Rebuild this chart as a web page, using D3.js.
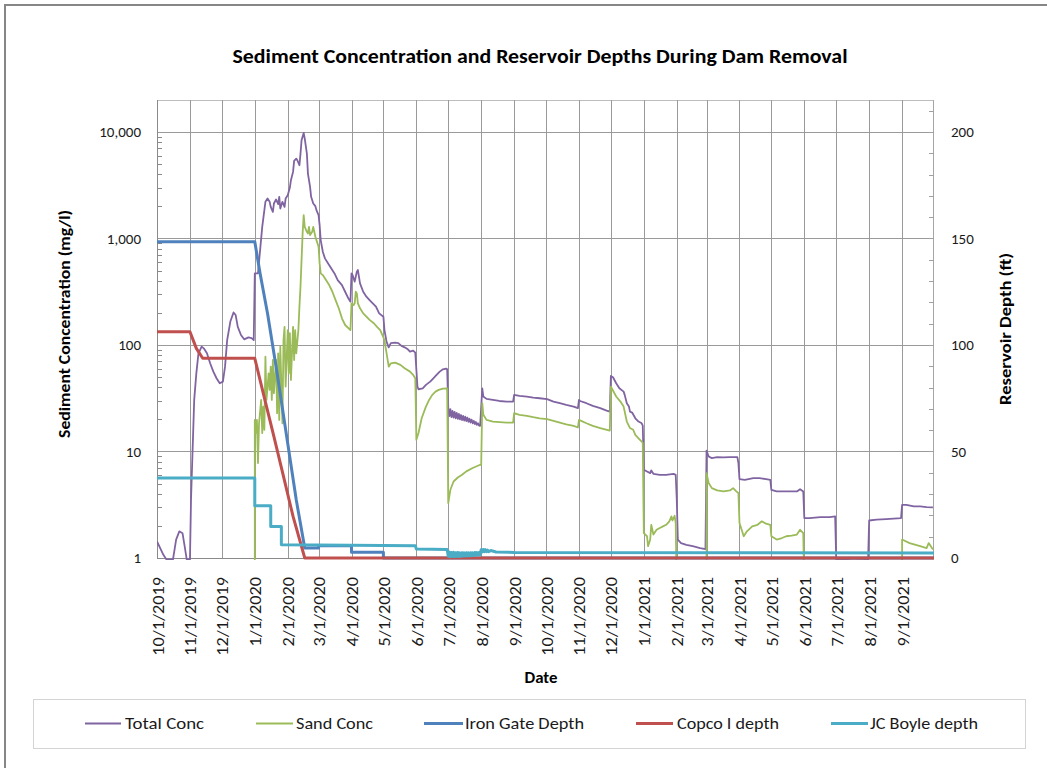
<!DOCTYPE html>
<html>
<head>
<meta charset="utf-8">
<script src="https://cdn.jsdelivr.net/npm/d3@7"></script>
<style>
  html, body { margin: 0; padding: 0; background: #fff; }
  svg { display: block; }
</style>
</head>
<body>
<svg id="chart" width="1047" height="768"></svg>
<script>
// ---- data (dates as YYYY-MM-DD; concentrations in mg/l, depths in ft) ----
const monthTicks = ["2019-10-01","2019-11-01","2019-12-01","2020-01-01","2020-02-01","2020-03-01",
  "2020-04-01","2020-05-01","2020-06-01","2020-07-01","2020-08-01","2020-09-01","2020-10-01",
  "2020-11-01","2020-12-01","2021-01-01","2021-02-01","2021-03-01","2021-04-01","2021-05-01",
  "2021-06-01","2021-07-01","2021-08-01","2021-09-01"];
const concTicks = [1, 10, 100, 1000, 10000];
const depthTicks = [0, 50, 100, 150, 200];

const totalConc = [
  ["2019-10-01",1.43],["2019-10-04",1.24],["2019-10-07",1.07],["2019-10-10",0.965],["2019-10-16",0.965],
  ["2019-10-19",1.49],["2019-10-22",1.78],["2019-10-25",1.71],["2019-10-27",1.29],["2019-10-29",0.965],
  ["2019-11-01",0.965],["2019-11-02",3.52],["2019-11-04",14.9],["2019-11-05",30.5],["2019-11-07",54.2],
  ["2019-11-09",83.5],["2019-11-12",96.5],["2019-11-14",93],["2019-11-17",83.5],["2019-11-20",67.3],
  ["2019-11-23",56.2],["2019-11-26",48.7],["2019-11-29",43.7],["2019-12-02",45.3],["2019-12-04",62.6],
  ["2019-12-06",111],["2019-12-09",166],["2019-12-12",202],["2019-12-14",191],["2019-12-16",148],
  ["2019-12-19",124],["2019-12-22",113],["2019-12-26",118],["2019-12-29",116],["2019-12-31",111],
  ["2020-01-01",470],["2020-01-04",470],["2020-01-06",778],["2020-01-08",1286],["2020-01-11",2207],
  ["2020-01-13",2371],["2020-01-15",2207],["2020-01-16",1982],["2020-01-18",1778],["2020-01-19",2130],
  ["2020-01-21",2322],["2020-01-23",2099],["2020-01-24",2459],["2020-01-25",1911],["2020-01-27",2207],
  ["2020-01-29",1982],["2020-01-30",2371],["2020-02-01",2548],["2020-02-03",3007],["2020-02-04",3522],
  ["2020-02-06",4217],["2020-02-07",5346],["2020-02-09",5623],["2020-02-10",5423],["2020-02-12",4870],
  ["2020-02-13",6266],["2020-02-14",8354],["2020-02-16",9793],["2020-02-17",8660],["2020-02-19",6266],
  ["2020-02-20",4066],["2020-02-22",3051],["2020-02-23",2459],["2020-02-25",2130],["2020-02-27",2010],
  ["2020-02-28",1845],["2020-03-01",1655],["2020-03-02",1334],["2020-03-03",965],["2020-03-05",750],
  ["2020-03-07",650],["2020-03-10",583],["2020-03-13",523],["2020-03-16",470],["2020-03-19",407],
  ["2020-03-23",365],["2020-03-26",316],["2020-03-29",274],["2020-03-31",255],["2020-04-01",470],
  ["2020-04-02",453],["2020-04-04",393],["2020-04-06",487],["2020-04-07",505],["2020-04-09",379],
  ["2020-04-12",316],["2020-04-15",284],["2020-04-18",264],["2020-04-21",246],["2020-04-24",229],
  ["2020-04-27",198],["2020-05-01",184],["2020-05-02",138],["2020-05-04",107],["2020-05-06",95],
  ["2020-05-08",104],["2020-05-12",105],["2020-05-15",104],["2020-05-18",98],["2020-05-21",95],
  ["2020-05-24",91],["2020-05-26",86.6],["2020-05-29",88.5],["2020-05-31",84.8],["2020-06-02",40.7],
  ["2020-06-03",38.4],["2020-06-07",39.2],["2020-06-10",42.2],["2020-06-14",45.3],["2020-06-17",48.7],
  ["2020-06-20",52.3],["2020-06-23",56.2],["2020-06-26",59.1],["2020-06-29",60],["2020-06-30",59.1],
  ["2020-07-01",26],["2020-07-02",21.5],["2020-07-03",25],["2020-07-04",21],["2020-07-05",24],
  ["2020-07-06",20.8],["2020-07-07",23.5],["2020-07-08",20.5],["2020-07-09",23],["2020-07-10",20.2],
  ["2020-07-11",22.5],["2020-07-12",20],["2020-07-13",22],["2020-07-14",19.7],["2020-07-15",21.6],
  ["2020-07-16",19.5],["2020-07-17",21.2],["2020-07-18",19.3],["2020-07-19",20.8],["2020-07-20",19],
  ["2020-07-21",20.3],["2020-07-22",18.7],["2020-07-23",19.9],["2020-07-24",18.4],["2020-07-25",19.4],
  ["2020-07-26",18.1],["2020-07-27",18.9],["2020-07-28",17.8],["2020-07-29",18.4],["2020-07-30",17.5],
  ["2020-07-31",17.4],["2020-08-02",39.2],["2020-08-03",32.8],["2020-08-06",31.2],["2020-08-12",30.5],
  ["2020-08-18",29.8],["2020-08-25",29.4],["2020-08-31",29.4],["2020-09-01",34],["2020-09-06",33.3],
  ["2020-09-13",32.8],["2020-09-19",32.1],["2020-09-25",31.6],["2020-10-02",31],["2020-10-08",29.4],
  ["2020-10-14",28.4],["2020-10-20",27.4],["2020-10-27",26.4],["2020-10-31",25.5],["2020-11-01",30.5],
  ["2020-11-02",29.8],["2020-11-08",28.4],["2020-11-14",26.8],["2020-11-21",25.5],["2020-11-27",24.2],
  ["2020-11-30",23.7],["2020-12-01",51.2],["2020-12-03",49.8],["2020-12-06",43.7],["2020-12-09",39.2],
  ["2020-12-13",36.5],["2020-12-14",34],["2020-12-16",28.4],["2020-12-18",26.4],["2020-12-19",23.7],
  ["2020-12-21",23.2],["2020-12-24",20.5],["2020-12-27",19.1],["2020-12-30",18.4],["2020-12-31",17.5],
  ["2021-01-01",6.73],["2021-01-04",6.49],["2021-01-07",6.26],["2021-01-08",6.64],["2021-01-10",6.17],
  ["2021-01-16",6.04],["2021-01-22",6.04],["2021-01-29",6.17],["2021-01-31",6.04],["2021-02-01",3.52],
  ["2021-02-02",1.49],["2021-02-05",1.38],["2021-02-10",1.33],["2021-02-16",1.29],["2021-02-23",1.24],
  ["2021-02-28",1.21],["2021-03-01",10.2],["2021-03-03",8.98],["2021-03-06",8.66],["2021-03-11",8.85],
  ["2021-03-17",8.8],["2021-03-23",8.85],["2021-03-30",8.85],["2021-03-31",7.78],["2021-04-01",5.5],
  ["2021-04-06",5.42],["2021-04-14",5.62],["2021-04-20",5.62],["2021-04-26",5.5],["2021-04-30",5.42],
  ["2021-05-01",4.37],["2021-05-06",4.22],["2021-05-15",4.22],["2021-05-25",4.22],["2021-05-28",4.43],
  ["2021-05-31",4.22],["2021-06-01",2.37],["2021-06-06",2.37],["2021-06-16",2.42],["2021-06-25",2.42],
  ["2021-06-30",2.46],["2021-07-01",0.965],["2021-07-08",0.965],["2021-07-17",0.951],["2021-07-27",0.958],
  ["2021-07-31",0.965],["2021-08-01",2.25],["2021-08-08",2.29],["2021-08-17",2.32],["2021-08-31",2.37],
  ["2021-09-01",3.16],["2021-09-05",3.16],["2021-09-12",3.05],["2021-09-18",3.05],["2021-09-24",3.01],
  ["2021-09-30",2.99]
];

const sandConc = [
  ["2020-01-01",0.5],["2020-01-01",19.8],["2020-01-02",14.9],["2020-01-03",19.8],["2020-01-04",7.8],
  ["2020-01-05",18.4],["2020-01-07",30.5],["2020-01-08",14.9],["2020-01-09",26.4],["2020-01-10",16],
  ["2020-01-11",77.8],["2020-01-12",30.5],["2020-01-14",54.2],["2020-01-15",37.9],["2020-01-16",62.6],
  ["2020-01-17",30.5],["2020-01-18",72.3],["2020-01-19",35.2],["2020-01-21",72.3],["2020-01-22",22.9],
  ["2020-01-23",83.5],["2020-01-24",19.8],["2020-01-25",96.5],["2020-01-27",18.4],["2020-01-28",111],
  ["2020-01-29",148],["2020-01-30",40.7],["2020-02-01",138],["2020-02-02",54.2],["2020-02-03",129],
  ["2020-02-04",47],["2020-02-06",148],["2020-02-07",72.3],["2020-02-08",138],["2020-02-09",83.5],
  ["2020-02-11",138],["2020-02-12",229],["2020-02-13",352],["2020-02-14",626],["2020-02-15",1114],
  ["2020-02-16",1655],["2020-02-17",1286],["2020-02-19",1155],["2020-02-20",1114],["2020-02-21",1286],
  ["2020-02-22",1075],["2020-02-24",1155],["2020-02-25",1286],["2020-02-27",1037],["2020-02-28",965],
  ["2020-03-01",835],["2020-03-02",583],["2020-03-03",470],["2020-03-05",453],["2020-03-08",407],
  ["2020-03-11",365],["2020-03-14",316],["2020-03-17",264],["2020-03-20",221],["2020-03-23",178],
  ["2020-03-26",154],["2020-03-31",138],["2020-04-01",246],["2020-04-03",237],["2020-04-04",246],
  ["2020-04-05",316],["2020-04-06",305],["2020-04-07",246],["2020-04-09",221],["2020-04-12",198],
  ["2020-04-15",185],["2020-04-18",172],["2020-04-22",160],["2020-04-25",148],["2020-04-28",138],
  ["2020-05-01",118],["2020-05-02",110],["2020-05-04",83.5],["2020-05-06",62.6],["2020-05-08",67.3],
  ["2020-05-12",68.3],["2020-05-17",65],["2020-05-21",60.4],["2020-05-26",56.2],["2020-05-29",52.3],
  ["2020-05-31",48.7],["2020-06-01",12.9],["2020-06-03",14.9],["2020-06-06",20.5],["2020-06-10",26.4],
  ["2020-06-13",30.5],["2020-06-16",34],["2020-06-19",36.5],["2020-06-22",37.9],["2020-06-26",39],
  ["2020-06-30",39.2],["2020-07-01",3.28],["2020-07-03",4.37],["2020-07-06",5.23],["2020-07-10",5.7],
  ["2020-07-14",6.04],["2020-07-18",6.5],["2020-07-24",7.0],["2020-07-31",7.5],["2020-08-01",7.5],
  ["2020-08-02",28.4],["2020-08-03",22.1],["2020-08-06",19.8],["2020-08-12",19.1],["2020-08-25",18.7],
  ["2020-08-31",18.7],["2020-09-01",22.9],["2020-09-06",22.1],["2020-09-13",21.6],["2020-09-19",21],
  ["2020-09-25",20.5],["2020-10-02",20.1],["2020-10-08",19.4],["2020-10-14",18.7],["2020-10-20",18],
  ["2020-10-27",17.4],["2020-10-31",16.8],["2020-11-01",19.8],["2020-11-08",18.4],["2020-11-14",17.4],
  ["2020-11-21",16.6],["2020-11-30",15.7],["2020-12-01",40.7],["2020-12-06",32.8],["2020-12-10",29.4],
  ["2020-12-13",26.4],["2020-12-16",19.1],["2020-12-19",16.6],["2020-12-22",16],["2020-12-24",14.3],
  ["2020-12-27",13.3],["2020-12-30",12.4],["2020-12-31",12],["2021-01-01",1.71],["2021-01-04",1.6],
  ["2021-01-05",1.29],["2021-01-07",1.49],["2021-01-08",2.05],["2021-01-10",1.66],["2021-01-13",1.84],
  ["2021-01-16",1.91],["2021-01-19",1.98],["2021-01-22",2.05],["2021-01-25",2.21],["2021-01-27",2.46],
  ["2021-01-28",2.25],["2021-01-30",2.49],["2021-01-31",2.13],["2021-02-01",0.5],["2021-03-01",0.5],
  ["2021-03-01",6.26],["2021-03-03",5.05],["2021-03-06",4.53],["2021-03-11",4.31],["2021-03-17",4.22],
  ["2021-03-23",4.31],["2021-03-26",4.53],["2021-03-29",4.22],["2021-03-31",4.07],["2021-04-01",2.13],
  ["2021-04-05",1.6],["2021-04-08",1.78],["2021-04-13",1.98],["2021-04-18",2.05],["2021-04-22",2.21],
  ["2021-04-26",2.1],["2021-04-30",2.05],["2021-05-01",1.6],["2021-05-06",1.49],["2021-05-11",1.54],
  ["2021-05-15",1.6],["2021-05-20",1.62],["2021-05-25",1.66],["2021-05-28",1.84],["2021-05-31",1.71],
  ["2021-06-01",0.5],["2021-09-01",0.5],["2021-09-01",1.49],["2021-09-08",1.38],["2021-09-18",1.29],
  ["2021-09-24",1.24],["2021-09-26",1.38],["2021-09-30",1.2]
];

const ironGateDepth = [
  ["2019-10-01",148.4],["2020-01-01",148.4],["2020-01-06",133.6],["2020-01-13",114.8],["2020-01-22",86.7],
  ["2020-01-31",57],["2020-02-09",27.3],["2020-02-17",4.7],["2020-03-01",4.7],["2020-03-01",5.8],
  ["2020-04-01",5.8],["2020-04-01",2.7],["2020-05-01",2.7],["2020-05-01",0],["2021-10-01",0]
];

const copcoDepth = [
  ["2019-10-01",106.25],["2019-11-01",106.25],["2019-11-07",98.4],["2019-11-13",93.75],["2020-01-01",93.75],
  ["2020-01-09",77.3],["2020-01-19",57],["2020-01-28",38.3],["2020-02-06",19.5],["2020-02-17",0],
  ["2021-10-01",0]
];

const jcBoyleDepth = [
  ["2019-10-01",37.5],["2020-01-01",37.5],["2020-01-01",24.5],["2020-01-16",24.5],["2020-01-16",14.8],
  ["2020-01-26",14.8],["2020-01-26",6.25],["2020-03-31",6.0],["2020-05-31",5.8],["2020-06-01",4.2],
  ["2020-06-30",4.0],["2020-07-01",0.8],["2020-07-02",2.8],["2020-07-03",0.6],["2020-07-04",2.6],
  ["2020-07-05",0.7],["2020-07-06",2.7],["2020-07-07",0.6],["2020-07-08",2.5],["2020-07-09",0.8],
  ["2020-07-10",2.6],["2020-07-11",0.7],["2020-07-12",2.4],["2020-07-13",0.8],["2020-07-14",2.5],
  ["2020-07-15",0.9],["2020-07-16",2.4],["2020-07-17",0.9],["2020-07-18",2.5],["2020-07-19",1.0],
  ["2020-07-20",2.4],["2020-07-21",1.0],["2020-07-22",2.5],["2020-07-23",1.1],["2020-07-24",2.4],
  ["2020-07-25",1.2],["2020-07-26",2.6],["2020-07-27",1.3],["2020-07-28",2.5],["2020-07-29",1.4],
  ["2020-07-30",2.6],["2020-07-31",1.5],["2020-08-01",3.9],["2020-08-02",2.9],["2020-08-03",4.0],
  ["2020-08-04",3.0],["2020-08-05",3.9],["2020-08-06",3.0],["2020-08-07",3.7],["2020-08-08",3.0],
  ["2020-08-10",3.5],["2020-08-15",2.8],["2020-09-01",2.6],["2021-10-01",2.4]
];

// ---- layout ----
const FONT = "Carlito, Calibri, Lato, 'Open Sans', sans-serif";
const plot = { left: 157, right: 934, top: 100, bottom: 558 };
const concMax = 19953, depthMax = 215;
const colors = { total: "#8064A2", sand: "#9BBB59", iron: "#4F81BD", copco: "#C0504D", jc: "#4BACC6" };

const parse = d3.timeParse("%Y-%m-%d");
const svg = d3.select("#chart");

const x = d3.scaleTime()
  .domain([parse("2019-10-01"), parse("2021-10-01")])
  .range([plot.left, plot.right]);
const yConc = d3.scaleLog().domain([1, concMax]).range([plot.bottom, plot.top]);
const yDepth = d3.scaleLinear().domain([0, depthMax]).range([plot.bottom, plot.top]);

// outer chart frame
svg.append("path")
  .attr("d", "M5,768 L5,5 L1047,5")
  .attr("fill", "none").attr("stroke", "#868686").attr("stroke-width", 2);

// title
svg.append("text")
  .attr("x", 540).attr("y", 56)
  .attr("text-anchor", "middle").attr("dominant-baseline", "central")
  .attr("font-family", FONT).attr("font-weight", "bold").attr("font-size", 20)
  .attr("textLength", 615).attr("lengthAdjust", "spacingAndGlyphs")
  .attr("fill", "#000")
  .text("Sediment Concentration and Reservoir Depths During Dam Removal");

// plot frame top / right
svg.append("line").attr("x1", plot.left).attr("x2", plot.right).attr("y1", plot.top + 0.5).attr("y2", plot.top + 0.5)
  .attr("stroke", "#bdbdbd");
svg.append("line").attr("x1", plot.right - 0.5).attr("x2", plot.right - 0.5).attr("y1", plot.top).attr("y2", plot.bottom)
  .attr("stroke", "#a6a6a6");

// vertical month gridlines
const months = monthTicks.map(parse);
svg.append("g").selectAll("line").data(months).join("line")
  .attr("x1", d => Math.round(x(d)) + 0.5).attr("x2", d => Math.round(x(d)) + 0.5)
  .attr("y1", plot.top).attr("y2", plot.bottom)
  .attr("stroke", "#9a9a9a").attr("stroke-width", 1);

// horizontal decade gridlines
svg.append("g").selectAll("line").data(concTicks.slice(1)).join("line")
  .attr("x1", plot.left).attr("x2", plot.right)
  .attr("y1", d => Math.round(yConc(d)) + 0.5).attr("y2", d => Math.round(yConc(d)) + 0.5)
  .attr("stroke", "#9a9a9a");

// left axis (log) with inner minor ticks
const minorConc = [];
for (let p = 1; p <= 10000; p *= 10) for (let m = 2; m <= 9; m++) if (p * m < concMax) minorConc.push(p * m);
svg.append("g").selectAll("line").data(minorConc).join("line")
  .attr("x1", plot.left).attr("x2", plot.left + 5)
  .attr("y1", d => Math.round(yConc(d)) + 0.5).attr("y2", d => Math.round(yConc(d)) + 0.5)
  .attr("stroke", "#8a8a8a");
svg.append("line").attr("x1", plot.left + 0.5).attr("x2", plot.left + 0.5).attr("y1", plot.top).attr("y2", plot.bottom)
  .attr("stroke", "#8a8a8a");

const leftAxis = svg.append("g")
  .attr("transform", `translate(${plot.left},0)`)
  .call(d3.axisLeft(yConc).tickValues(concTicks).tickSize(0).tickPadding(16).tickFormat(d3.format(",")));
leftAxis.select(".domain").remove();
leftAxis.selectAll("text").attr("font-family", FONT).attr("font-size", 15).attr("fill", "#1a1a1a");

// right axis (depth) with inner minor ticks
const minorDepth = d3.range(0, depthMax + 1, 10);
svg.append("g").selectAll("line").data(minorDepth).join("line")
  .attr("x1", plot.right - 5).attr("x2", plot.right)
  .attr("y1", d => Math.round(yDepth(d)) + 0.5).attr("y2", d => Math.round(yDepth(d)) + 0.5)
  .attr("stroke", "#a0a0a0");
const rightAxis = svg.append("g")
  .attr("transform", `translate(${plot.right},0)`)
  .call(d3.axisRight(yDepth).tickValues(depthTicks).tickSize(0).tickPadding(17));
rightAxis.select(".domain").remove();
rightAxis.selectAll("text").attr("font-family", FONT).attr("font-size", 15).attr("fill", "#1a1a1a");

// bottom axis line
svg.append("line").attr("x1", plot.left).attr("x2", plot.right)
  .attr("y1", plot.bottom + 0.5).attr("y2", plot.bottom + 0.5).attr("stroke", "#8a8a8a");

// rotated month labels, stretched slightly along their length
const fmt = d3.timeFormat("%-m/%-d/%Y");
svg.append("g").selectAll("text").data(months).join("text")
  .attr("transform", d => `translate(${x(d) + 1},577) rotate(-90)`)
  .attr("text-anchor", "end").attr("dominant-baseline", "central")
  .attr("font-family", FONT).attr("font-size", 16).attr("fill", "#1a1a1a")
  .text(d => fmt(d))
  .each(function () {
    const len = this.getComputedTextLength();
    d3.select(this).attr("textLength", len * 1.14).attr("lengthAdjust", "spacingAndGlyphs");
  });

// axis titles
svg.append("text")
  .attr("transform", "translate(65,324) rotate(-90)")
  .attr("text-anchor", "middle").attr("dominant-baseline", "central")
  .attr("font-family", FONT).attr("font-weight", "bold").attr("font-size", 15)
  .attr("textLength", 228).attr("lengthAdjust", "spacingAndGlyphs")
  .text("Sediment Concentration (mg/l)");
svg.append("text")
  .attr("transform", "translate(1005.5,329) rotate(-90)")
  .attr("text-anchor", "middle").attr("dominant-baseline", "central")
  .attr("font-family", FONT).attr("font-weight", "bold").attr("font-size", 15)
  .attr("textLength", 152).attr("lengthAdjust", "spacingAndGlyphs")
  .text("Reservoir Depth (ft)");
svg.append("text")
  .attr("x", 541).attr("y", 678)
  .attr("text-anchor", "middle").attr("dominant-baseline", "central")
  .attr("font-family", FONT).attr("font-weight", "bold").attr("font-size", 15)
  .attr("textLength", 33).attr("lengthAdjust", "spacingAndGlyphs")
  .text("Date");

// series
svg.append("defs").append("clipPath").attr("id", "plotClip")
  .append("rect").attr("x", plot.left).attr("y", plot.top - 2)
  .attr("width", plot.right - plot.left).attr("height", plot.bottom - plot.top + 4);

const series = [
  { name: "Total Conc", data: totalConc, scale: yConc, color: colors.total, width: 1.8 },
  { name: "Sand Conc", data: sandConc, scale: yConc, color: colors.sand, width: 1.8 },
  { name: "Iron Gate Depth", data: ironGateDepth, scale: yDepth, color: colors.iron, width: 3 },
  { name: "Copco I depth", data: copcoDepth, scale: yDepth, color: colors.copco, width: 3 },
  { name: "JC Boyle depth", data: jcBoyleDepth, scale: yDepth, color: colors.jc, width: 3 }
];

const gSeries = svg.append("g").attr("clip-path", "url(#plotClip)");
series.forEach(s => {
  const line = d3.line().x(d => x(parse(d[0]))).y(d => s.scale(d[1]));
  gSeries.append("path")
    .datum(s.data)
    .attr("d", line)
    .attr("fill", "none")
    .attr("stroke", s.color)
    .attr("stroke-width", s.width)
    .attr("stroke-linejoin", "round");
});

// legend
const legend = svg.append("g");
legend.append("rect").attr("x", 33.5).attr("y", 699.5).attr("width", 992).attr("height", 49)
  .attr("fill", "#fff").attr("stroke", "#d4d4d4");
const legendItems = [
  { s: series[0], x0: 85, x1: 121, tx: 125, tw: 79 },
  { s: series[1], x0: 256, x1: 293, tx: 296, tw: 77 },
  { s: series[2], x0: 424, x1: 463, tx: 465, tw: 119 },
  { s: series[3], x0: 636, x1: 673, tx: 677, tw: 102 },
  { s: series[4], x0: 831, x1: 868, tx: 870, tw: 108 }
];
legendItems.forEach(it => {
  legend.append("line").attr("x1", it.x0).attr("x2", it.x1).attr("y1", 723.5).attr("y2", 723.5)
    .attr("stroke", it.s.color).attr("stroke-width", it.s.width);
  legend.append("text").attr("x", it.tx).attr("y", 723)
    .attr("dominant-baseline", "central")
    .attr("font-family", FONT).attr("font-size", 17).attr("fill", "#1a1a1a")
    .attr("textLength", it.tw).attr("lengthAdjust", "spacingAndGlyphs")
    .text(it.s.name);
});
</script>
</body>
</html>
